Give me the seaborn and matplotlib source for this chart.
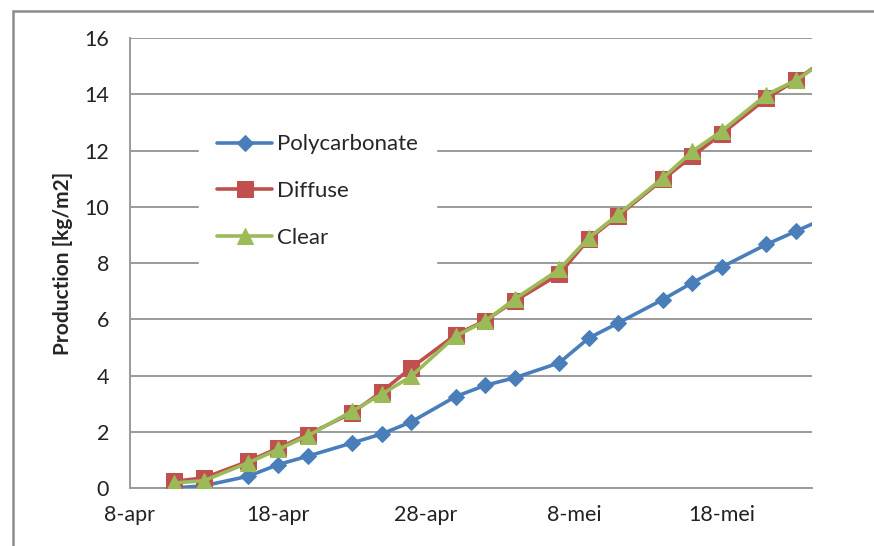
import matplotlib
matplotlib.use("Agg")
import matplotlib.pyplot as plt
from matplotlib.lines import Line2D
import numpy as np
import pandas as pd
import seaborn as sns

# Measurement dates (Mon / Wed / Fri schedule)
dates = pd.to_datetime([
    "2011-04-11", "2011-04-13", "2011-04-16", "2011-04-18", "2011-04-20",
    "2011-04-23", "2011-04-25", "2011-04-27", "2011-04-30", "2011-05-02",
    "2011-05-04", "2011-05-07", "2011-05-09", "2011-05-11", "2011-05-14",
    "2011-05-16", "2011-05-18", "2011-05-21", "2011-05-23", "2011-05-25",
])

# Cumulative production per greenhouse cover [kg/m2]
polycarbonate = [0.0, 0.08, 0.42, 0.83, 1.13, 1.60, 1.92, 2.35, 3.25, 3.65,
                 3.92, 4.45, 5.33, 5.87, 6.70, 7.30, 7.86, 8.66, 9.13, 9.60]
diffuse = [0.24, 0.36, 0.95, 1.42, 1.90, 2.67, 3.42, 4.27, 5.45, 5.95,
           6.65, 7.60, 8.85, 9.68, 10.97, 11.80, 12.60, 13.85, 14.50, 15.25]
clear = [0.18, 0.26, 0.90, 1.37, 1.85, 2.73, 3.33, 3.97, 5.40, 5.93,
         6.72, 7.77, 8.90, 9.73, 11.02, 11.97, 12.70, 13.98, 14.50, 15.20]

series_names = ["Polycarbonate", "Diffuse", "Clear"]
series_colors = ["#4A7EBB", "#C0504D", "#9BBB59"]
series_markers = ["D", "s", "^"]
series_sizes = [8, 11, 12]

tick_dates = pd.to_datetime(["2011-04-08", "2011-04-18", "2011-04-28",
                             "2011-05-08", "2011-05-18"])
tick_labels = ["8-apr", "18-apr", "28-apr", "8-mei", "18-mei"]
y_ticks = [0, 2, 4, 6, 8, 10, 12, 14, 16]

sns.set_style("white")
plt.rcParams["font.family"] = ["Lato", "DejaVu Sans"]

df = pd.DataFrame({
    "date": np.tile(dates, 3),
    "value": polycarbonate + diffuse + clear,
    "cover": np.repeat(series_names, len(dates)),
})

fig = plt.figure(figsize=(8.74, 5.46), dpi=100)
ax = fig.add_axes([130 / 874, 1 - 488 / 546, 682 / 874, 450 / 546])

# outer chart frame (left and top edges)
fx, fy = 13 / 874, 1 - 11 / 546
fig.lines.append(Line2D([fx, fx, 1.05], [-0.05, fy, fy],
                        transform=fig.transFigure, color="#8C8C8C",
                        linewidth=1.8, solid_joinstyle="miter"))

for name, color, marker, ms in zip(series_names, series_colors,
                                   series_markers, series_sizes):
    sub = df[df["cover"] == name]
    sns.lineplot(data=sub, x="date", y="value", ax=ax, color=color,
                 marker=marker, markersize=ms, markeredgecolor=color,
                 linewidth=2.6, label=name, zorder=3)

ax.set_xlim(pd.Timestamp("2011-04-08"), pd.Timestamp("2011-05-24 02:00"))
ax.set_ylim(0, 16)
ax.set_xticks(tick_dates)
ax.set_xticklabels(tick_labels)
ax.set_yticks(y_ticks)
ax.set_yticklabels([str(v) for v in y_ticks])

ax.yaxis.grid(True, color="#9A9A9A", linewidth=1.4)
ax.set_axisbelow(True)
for side in ["top", "right"]:
    ax.spines[side].set_visible(False)
ax.spines["left"].set_color("#9A9A9A")
ax.spines["left"].set_linewidth(1.4)
ax.spines["bottom"].set_color("#9A9A9A")
ax.spines["bottom"].set_linewidth(1.4)
ax.tick_params(axis="both", which="both", direction="out", length=6,
               width=1.2, color="#9A9A9A", labelsize=15.5,
               labelcolor="#222222")
ax.tick_params(axis="y", pad=9)
ax.tick_params(axis="x", pad=6)

ax.set_xlabel("")
ax.set_ylabel("Production [kg/m2]", fontsize=15, fontweight="bold",
              labelpad=8)

leg = ax.legend(loc="upper left", bbox_to_anchor=(0.085, 0.85),
                frameon=True, facecolor="white", edgecolor="white",
                framealpha=1, fontsize=16, handlelength=2.5,
                handletextpad=0.2, labelspacing=1.2, borderpad=0.8,
                fancybox=False)
leg.set_zorder(5)

fig.savefig("out.png", dpi=100)
